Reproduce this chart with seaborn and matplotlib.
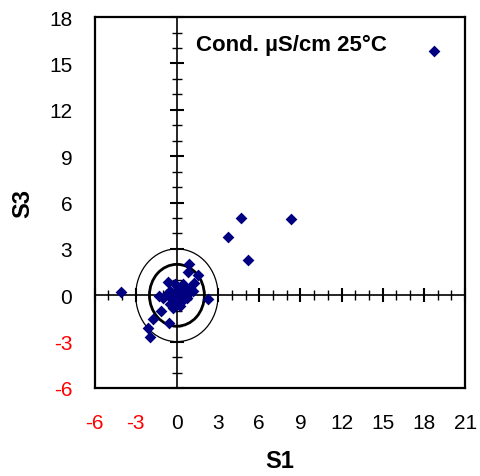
import matplotlib
matplotlib.use("Agg")
import matplotlib.pyplot as plt
import seaborn as sns
import pandas as pd
from matplotlib.patches import Circle
from matplotlib.ticker import MultipleLocator

# ---- data ----
s1 = [18.7, 4.7, 8.3, 3.7, 5.2, -4.05, 2.25, 0.9, 0.82, 1.55, 1.26, 0.95,
      -0.63, -1.33, -1.17, -1.72, -0.58, -2.09, -1.97, 0.46, -0.02, 0.71,
      -0.51, -1.0, 0.22, -0.27, 1.19, 0.07, -0.36, 0.36, 0.8, -0.73, -0.15,
      0.3, -0.5, 0.55, 0.1, -0.2]
s3 = [15.8, 5.0, 4.95, 3.75, 2.3, 0.2, -0.22, 2.05, 1.53, 1.31, 0.82, 0.5,
      0.86, -0.04, -1.01, -1.51, -1.77, -2.11, -2.7, 0.71, 0.06, -0.15,
      -0.58, -0.15, -0.69, -0.8, 0.28, 0.39, -0.26, -0.39, 0.19, 0.06, 0.71,
      0.1, 0.3, 0.35, -0.45, -0.6]
x_ticks = [-6, -3, 0, 3, 6, 9, 12, 15, 18, 21]
y_ticks = [-6, -3, 0, 3, 6, 9, 12, 15, 18]
circle_radii = [2, 3]
circle_widths = [2.0, 0.9]
title = "Cond. \u00b5S/cm 25\u00b0C"

sns.set_theme(style="white")
plt.rcParams["font.family"] = ["Liberation Sans", "DejaVu Sans"]
plt.rcParams["text.color"] = "black"
plt.rcParams["axes.labelcolor"] = "black"
plt.rcParams["xtick.color"] = "black"
plt.rcParams["ytick.color"] = "black"

df = pd.DataFrame({"S1": s1, "S3": s3})

fig = plt.figure(figsize=(4.8, 4.77), dpi=100)
fig.patch.set_facecolor("white")
pos = [0.197, 0.1845, 0.772, 0.7775]

# crossing axes through the origin (drawn underneath)
ax2 = fig.add_axes(pos)
ax2.set_xlim(x_ticks[0], x_ticks[-1])
ax2.set_ylim(y_ticks[0], y_ticks[-1])
ax2.patch.set_visible(False)
for side in ["top", "right"]:
    ax2.spines[side].set_visible(False)
for side in ["left", "bottom"]:
    ax2.spines[side].set_position(("data", 0))
    ax2.spines[side].set_color("black")
    ax2.spines[side].set_linewidth(1.2)
ax2.xaxis.set_major_locator(MultipleLocator(3))
ax2.yaxis.set_major_locator(MultipleLocator(3))
ax2.xaxis.set_minor_locator(MultipleLocator(1))
ax2.yaxis.set_minor_locator(MultipleLocator(1))
ax2.tick_params(which="major", direction="inout", length=10, width=1.5,
                color="black", labelbottom=False, labelleft=False,
                bottom=True, left=True)
ax2.tick_params(which="minor", direction="inout", length=7, width=1.0,
                color="black", bottom=True, left=True)

ax = fig.add_axes(pos)
ax.patch.set_visible(False)

sns.scatterplot(data=df, x="S1", y="S3", marker="D", s=36, color="#000080",
                edgecolor="#000080", linewidth=0, ax=ax, zorder=5)

for r, lw in zip(circle_radii, circle_widths):
    ax.add_patch(Circle((0, 0), r, fill=False, edgecolor="black", lw=lw, zorder=3))

ax.set_xlim(x_ticks[0], x_ticks[-1])
ax.set_ylim(y_ticks[0], y_ticks[-1])
ax.set_xticks(x_ticks)
ax.set_yticks(y_ticks)
ax.set_xticklabels([str(v) for v in x_ticks])
ax.set_yticklabels([str(v) for v in y_ticks])
ax.tick_params(axis="both", length=0, labelsize=15)
ax.tick_params(axis="x", pad=18)
ax.tick_params(axis="y", pad=16)
for lab, v in zip(ax.get_xticklabels(), x_ticks):
    lab.set_color("red" if v < 0 else "black")
for lab, v in zip(ax.get_yticklabels(), y_ticks):
    lab.set_color("red" if v < 0 else "black")
for sp in ax.spines.values():
    sp.set_visible(True)
    sp.set_color("black")
    sp.set_linewidth(1.6)

ax.set_xlabel("S1", fontsize=17, fontweight="bold", labelpad=12)
ax.set_ylabel("S3", fontsize=17, fontweight="bold", labelpad=11)
ax.text(0.274, 0.925, title, transform=ax.transAxes, fontsize=16,
        fontweight="bold", va="center", ha="left")

fig.savefig("out.png", dpi=100, facecolor="white")
